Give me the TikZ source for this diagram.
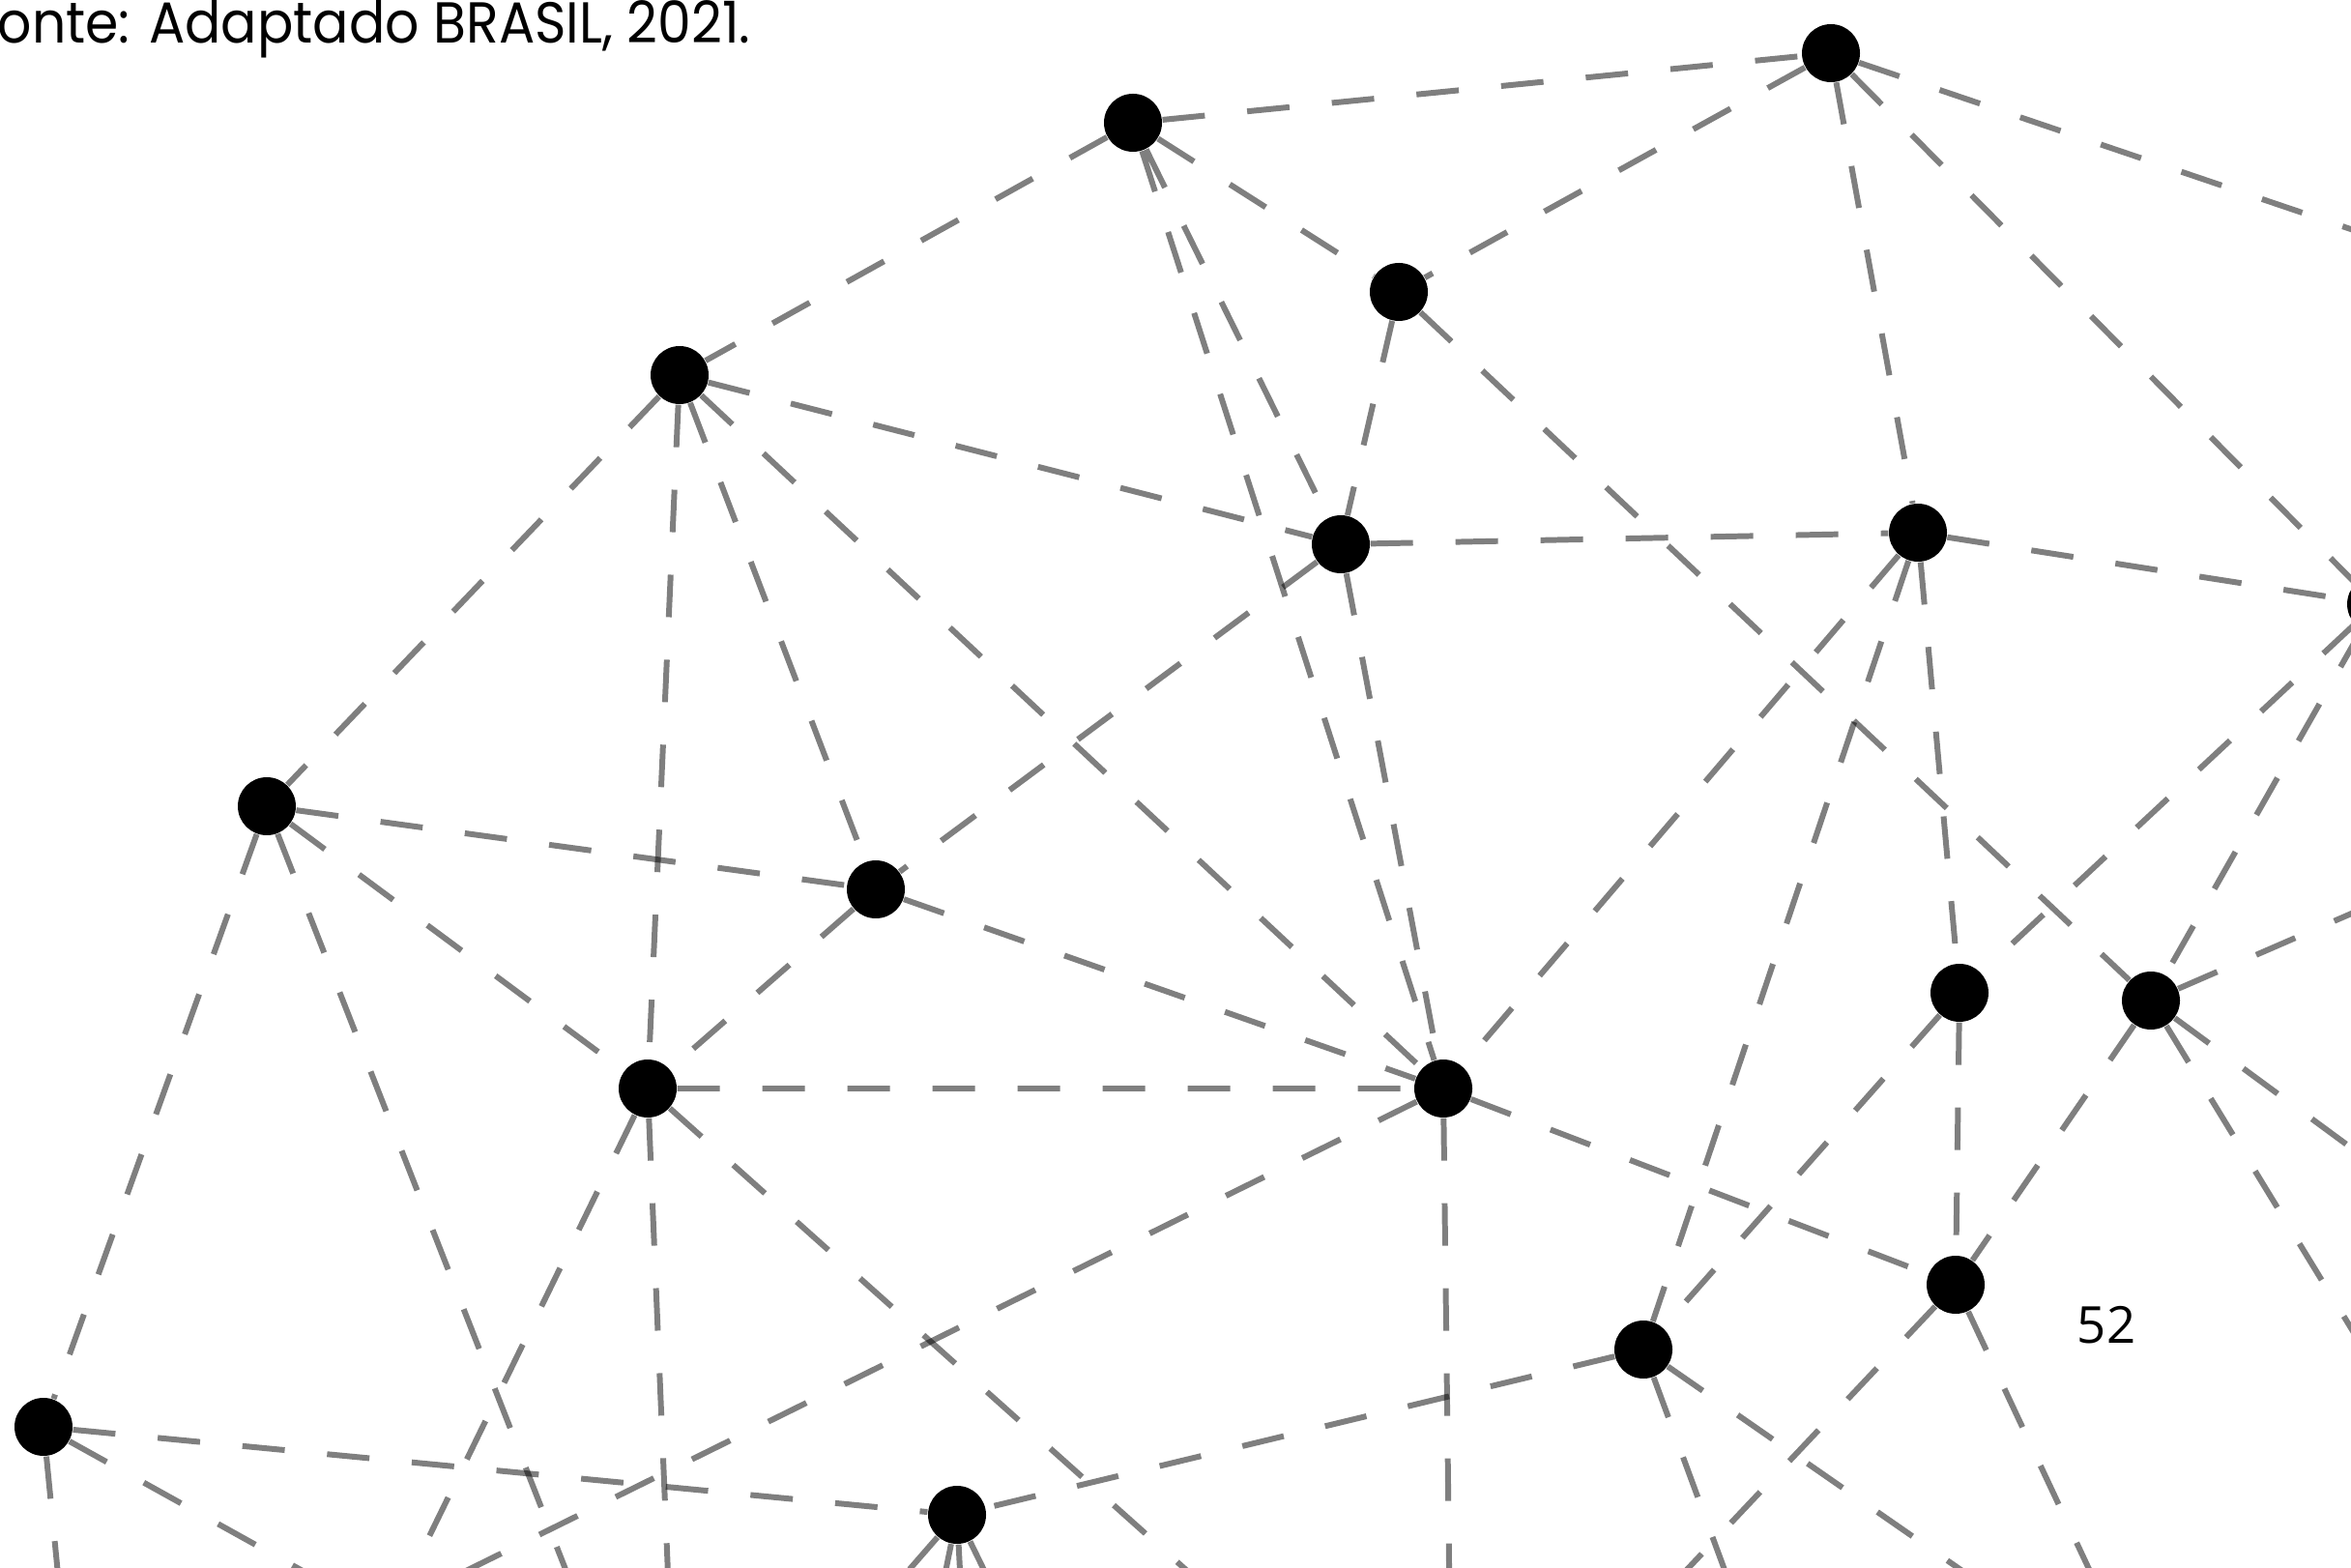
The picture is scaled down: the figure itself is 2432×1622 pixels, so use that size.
\documentclass[tikz,border=0pt]{standalone}
\usepackage{graphicx}
\usepackage{fontspec}
\newfontfamily\sourcefont{Poppins}
\newfontfamily\labelfont{Open Sans}

\begin{document}
\begin{tikzpicture}[
  x=0.1mm, y=-0.1mm,
  dot/.style={circle, fill=black, minimum size=6mm, inner sep=0pt},
  link/.style={draw=black, draw opacity=0.5, line width=1.7pt,
    dash pattern=on 4.4mm off 4.4mm}
]
\useasboundingbox (0,0) rectangle (2432,1622);
\clip (0,0) rectangle (2432,1622);
% points of the net
\node[dot] (a) at (1172,127) {};
\node[dot] (b) at (1894,55) {};
\node[dot] (c) at (1447,302) {};
\node[dot] (d) at (703,388) {};
\node[dot] (e) at (1387,563) {};
\node[dot] (f) at (1984,551) {};
\node[dot] (g) at (2458,625) {};
\node[dot] (h) at (276,834) {};
\node[dot] (i) at (906,920) {};
\node[dot] (j) at (670,1126) {};
\node[dot] (k) at (1493,1126) {};
\node[dot] (l) at (2027,1027) {};
\node[dot] (m) at (2225,1035) {};
\node[dot] (n) at (2023,1329) {};
\node[dot] (o) at (1700,1396) {};
\node[dot] (p) at (45,1476) {};
\node[dot] (q) at (990,1567) {};
% ends outside the frame
\coordinate (bR) at (2600,294);
\coordinate (hB) at (615,1700);
\coordinate (jB1) at (390,1700);
\coordinate (jB2) at (694,1700);
\coordinate (jB3) at (1312,1700);
\coordinate (kB1) at (330,1700);
\coordinate (kB2) at (1500,1700);
\coordinate (mR1) at (2550,894);
\coordinate (mR2) at (2550,1274);
\coordinate (mR3) at (2550,1567);
\coordinate (nB1) at (1673,1700);
\coordinate (nB2) at (2197,1700);
\coordinate (oB1) at (1812,1700);
\coordinate (oB2) at (2138,1700);
\coordinate (pB1) at (67,1700);
\coordinate (pB2) at (448,1700);
\coordinate (qB1) at (874,1700);
\coordinate (qB2) at (963,1700);
\coordinate (qB3) at (997,1700);
\coordinate (qB4) at (1055,1700);
% links
\draw[link] (a) -- (b) (a) -- (c) (a) -- (d) (a) -- (e) (a) -- (k);
\draw[link] (b) -- (c) (b) -- (f) (b) -- (g) (b) -- (bR);
\draw[link] (c) -- (e) (c) -- (m);
\draw[link] (d) -- (e) (d) -- (h) (d) -- (i) (d) -- (j) (d) -- (k);
\draw[link] (e) -- (f) (e) -- (i) (e) -- (k);
\draw[link] (f) -- (g) (f) -- (k) (f) -- (l) (f) -- (o);
\draw[link] (g) -- (l) (g) -- (m);
\draw[link] (h) -- (i) (h) -- (j) (h) -- (p) (h) -- (hB);
\draw[link] (i) -- (j) (i) -- (k);
\draw[link] (j) -- (k) (j) -- (jB1) (j) -- (jB2) (j) -- (jB3);
\draw[link] (k) -- (n) (k) -- (kB1) (k) -- (kB2);
\draw[link] (l) -- (n) (l) -- (o);
\draw[link] (m) -- (n) (m) -- (mR1) (m) -- (mR2) (m) -- (mR3);
\draw[link] (n) -- (nB1) (n) -- (nB2);
\draw[link] (o) -- (q) (o) -- (oB1) (o) -- (oB2);
\draw[link] (p) -- (q) (p) -- (pB1) (p) -- (pB2);
\draw[link] (q) -- (qB1) (q) -- (qB2) (q) -- (qB3) (q) -- (qB4);
% texts
\node[anchor=base west, inner sep=0pt, font=\sourcefont\fontsize{17}{20}\selectfont]
  (src) at (-3,45) {\scalebox{0.925}[1]{onte: Adaptado BRASIL, 2021.}};
\node[font=\labelfont\fontsize{15}{18}\selectfont] (num) at (2179,1371) {52};
\end{tikzpicture}
\end{document}
